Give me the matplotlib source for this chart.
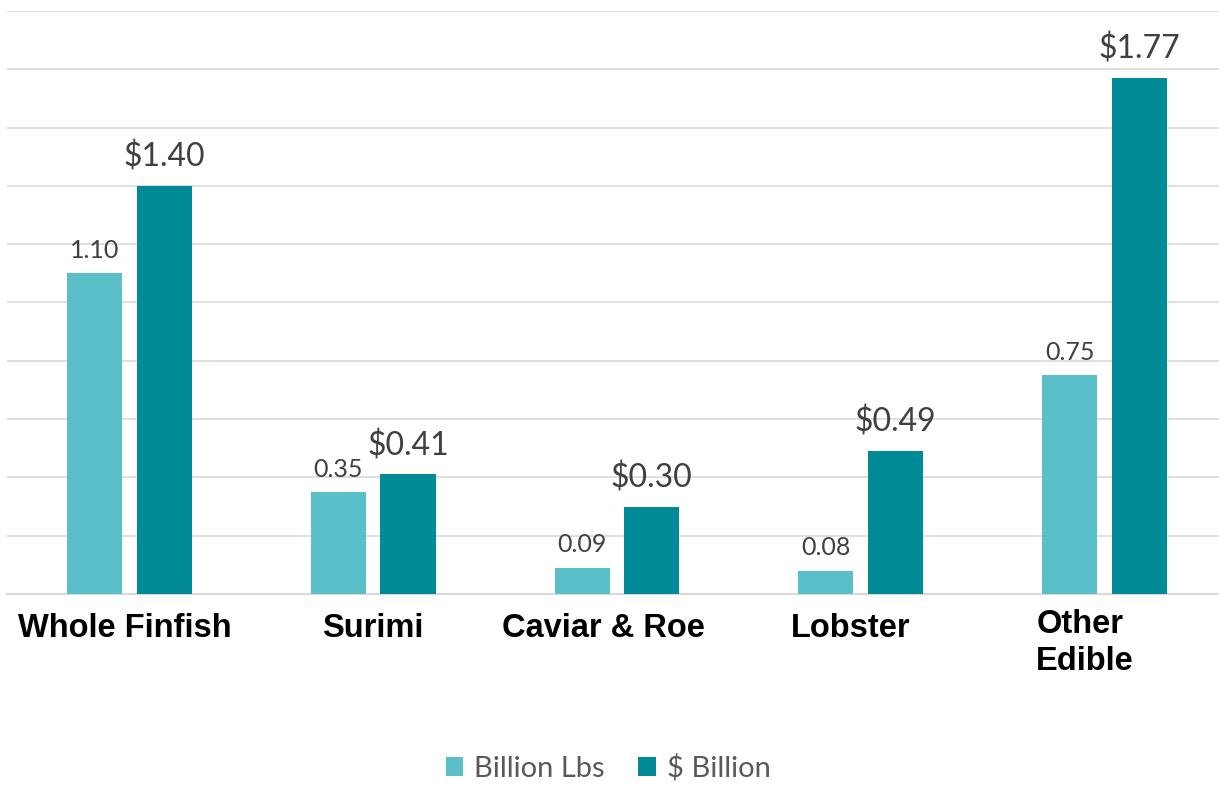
import matplotlib
matplotlib.use("Agg")
import matplotlib.pyplot as plt
import matplotlib.transforms as mtransforms
import numpy as np
from matplotlib.patches import Patch

categories = ["Whole Finfish", "Surimi", "Caviar & Roe", "Lobster", "Other\nEdible"]
billion_lbs = [1.10, 0.35, 0.09, 0.08, 0.75]
dollar_billion = [1.40, 0.41, 0.30, 0.49, 1.77]
series_names = ["Billion Lbs", "$ Billion"]

# small horizontal / vertical nudges (points) for the category captions
label_dx = [-3, 0, -10, -7, -14]
label_dy = [0, 0, 0, 0, -24]

LIGHT = "#5BBFCA"
DARK = "#008A98"
GRID = "#D9D9D9"
LABEL_GRAY = "#404040"
LEGEND_GRAY = "#595959"

fig = plt.figure(figsize=(12.19, 7.85), dpi=100)
ax = fig.add_axes([0.0061, 0.2433, 1.0, 0.7427])

x = np.arange(len(categories))
width = 0.226
offset = 0.143

bars_l = ax.bar(x - offset, billion_lbs, width, color=LIGHT, zorder=3)
bars_d = ax.bar(x + offset, dollar_billion, width, color=DARK, zorder=3)

for rect, v in zip(bars_l, billion_lbs):
    ax.annotate(f"{v:.2f}", (rect.get_x() + rect.get_width() / 2, v),
                xytext=(0, 11), textcoords="offset points",
                ha="center", va="baseline", fontsize=18,
                family="Lato", color=LABEL_GRAY)
for rect, v in zip(bars_d, dollar_billion):
    ax.annotate(f"${v:.2f}", (rect.get_x() + rect.get_width() / 2, v),
                xytext=(0, 14), textcoords="offset points",
                ha="center", va="baseline", fontsize=23,
                family="Lato", color=LABEL_GRAY)

ax.set_xlim(-0.5, len(categories) - 0.5)
ax.set_ylim(0, 2.0)
ax.set_yticks(np.arange(0, 2.01, 0.2))
ax.yaxis.grid(True, color=GRID, linewidth=1.2, zorder=0)
ax.tick_params(axis="y", length=0, labelleft=False)
ax.set_xticks([])
for s in ["top", "right", "left"]:
    ax.spines[s].set_visible(False)
ax.spines["bottom"].set_color(GRID)
ax.spines["bottom"].set_linewidth(1.5)

# category captions below the baseline
trans = mtransforms.blended_transform_factory(ax.transData, ax.transAxes)
for xi, name, dx, dy in zip(x, categories, label_dx, label_dy):
    ax.annotate(name, (xi, 0), xycoords=trans,
                xytext=(dx, -31 + dy), textcoords="offset points",
                ha="center", va="baseline", multialignment="left",
                linespacing=1.25, fontsize=23.5, fontweight="bold",
                family="Liberation Sans", color="black",
                annotation_clip=False)

handles = [Patch(facecolor=LIGHT), Patch(facecolor=DARK)]
fig.legend(handles, series_names, loc="center", bbox_to_anchor=(0.499, 0.0217),
           ncol=2, frameon=False, handlelength=0.6, handleheight=0.6,
           handletextpad=0.38, columnspacing=1.15,
           prop={"family": "Lato", "size": 21}, labelcolor=LEGEND_GRAY)

fig.savefig("out.png", dpi=100, facecolor="white")
